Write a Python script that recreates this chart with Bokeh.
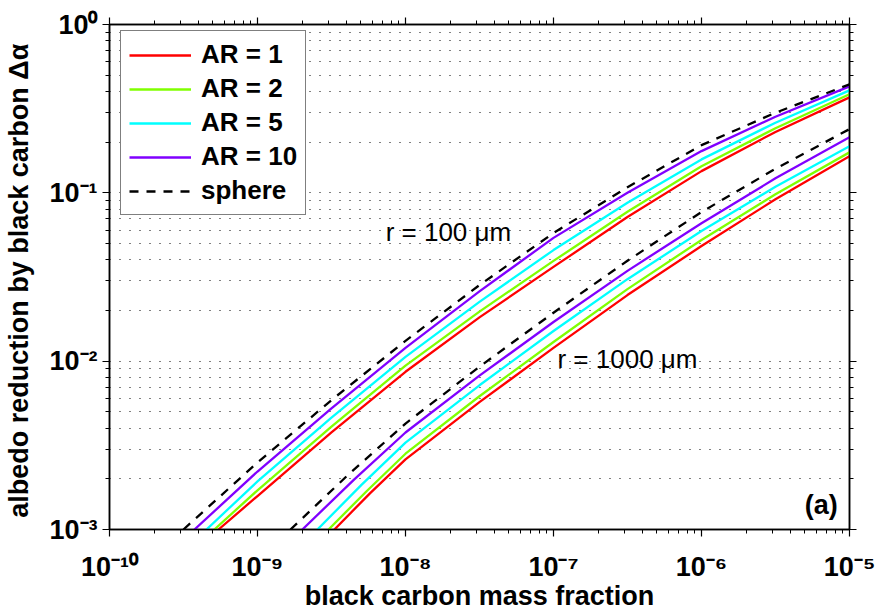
from bokeh.plotting import figure
from bokeh.models import (LogAxis, FixedTicker, Legend, LegendItem, Label)
from bokeh.embed import file_html
from bokeh.resources import INLINE

# ---------------- data ----------------
ar_labels = ["AR = 1", "AR = 2", "AR = 5", "AR = 10", "sphere"]
colors = ["#ff0000", "#80ff00", "#00ffff", "#8000ff", "#000000"]

# r = 100 um : x = black carbon mass fraction, y = albedo reduction
r100_x = {
    "AR = 1":  [5.45e-10, 1e-9, 3.16e-9, 1e-8, 3.16e-8, 1e-7, 3.16e-7, 1e-6, 3.16e-6, 1e-5],
    "AR = 2":  [5.11e-10, 1e-9, 3.16e-9, 1e-8, 3.16e-8, 1e-7, 3.16e-7, 1e-6, 3.16e-6, 1e-5],
    "AR = 5":  [4.52e-10, 1e-9, 3.16e-9, 1e-8, 3.16e-8, 1e-7, 3.16e-7, 1e-6, 3.16e-6, 1e-5],
    "AR = 10": [3.75e-10, 1e-9, 3.16e-9, 1e-8, 3.16e-8, 1e-7, 3.16e-7, 1e-6, 3.16e-6, 1e-5],
    "sphere":  [3.16e-10, 1e-9, 3.16e-9, 1e-8, 3.16e-8, 1e-7, 3.16e-7, 1e-6, 3.16e-6, 1e-5],
}
r100_y = {
    "AR = 1":  [1.0e-3, 1.58e-3, 3.78e-3, 8.65e-3, 0.0182, 0.0363, 0.0718, 0.1346, 0.230, 0.369],
    "AR = 2":  [1.0e-3, 1.71e-3, 4.08e-3, 9.40e-3, 0.0197, 0.0394, 0.0772, 0.144, 0.242, 0.385],
    "AR = 5":  [1.0e-3, 1.93e-3, 4.62e-3, 1.06e-2, 0.0225, 0.0457, 0.0873, 0.158, 0.261, 0.406],
    "AR = 10": [1.0e-3, 2.21e-3, 5.25e-3, 1.20e-2, 0.0260, 0.0540, 0.1001, 0.177, 0.283, 0.429],
    "sphere":  [1.0e-3, 2.50e-3, 5.87e-3, 1.32e-2, 0.0283, 0.0577, 0.1079, 0.192, 0.299, 0.441],
}
# r = 1000 um
r1000_x = {
    "AR = 1":  [3.31e-9, 5.75e-9, 1e-8, 3.16e-8, 1e-7, 3.16e-7, 1e-6, 3.16e-6, 1e-5],
    "AR = 2":  [3.02e-9, 5.50e-9, 1e-8, 3.16e-8, 1e-7, 3.16e-7, 1e-6, 3.16e-6, 1e-5],
    "AR = 5":  [2.54e-9, 5.04e-9, 1e-8, 3.16e-8, 1e-7, 3.16e-7, 1e-6, 3.16e-6, 1e-5],
    "AR = 10": [2.01e-9, 4.49e-9, 1e-8, 3.16e-8, 1e-7, 3.16e-7, 1e-6, 3.16e-6, 1e-5],
    "sphere":  [1.67e-9, 4.09e-9, 1e-8, 3.16e-8, 1e-7, 3.16e-7, 1e-6, 3.16e-6, 1e-5],
}
r1000_y = {
    "AR = 1":  [1.0e-3, 1.64e-3, 2.61e-3, 5.71e-3, 0.0120, 0.0247, 0.0483, 0.0916, 0.165],
    "AR = 2":  [1.0e-3, 1.70e-3, 2.82e-3, 6.19e-3, 0.0130, 0.0268, 0.0525, 0.0980, 0.174],
    "AR = 5":  [1.0e-3, 1.84e-3, 3.28e-3, 7.19e-3, 0.0151, 0.0307, 0.0593, 0.1086, 0.189],
    "AR = 10": [1.0e-3, 1.98e-3, 3.77e-3, 8.20e-3, 0.0171, 0.0344, 0.0660, 0.1219, 0.214],
    "sphere":  [1.0e-3, 2.11e-3, 4.26e-3, 9.27e-3, 0.0194, 0.0395, 0.0769, 0.1390, 0.239],
}

x_major = [1e-10, 1e-9, 1e-8, 1e-7, 1e-6, 1e-5]
y_major = [1e-3, 1e-2, 1e-1, 1e0]
x_labels = ["10⁻¹⁰", "10⁻⁹", "10⁻⁸", "10⁻⁷", "10⁻⁶", "10⁻⁵"]
y_labels = ["10⁻³", "10⁻²", "10⁻¹", "10⁰"]

annotations = [("r = 100 μm", 1.95e-8, 0.0585), ("r = 1000 μm", 3.16e-7, 0.01033)]
panel_tag = ("(a)", 6.45e-6, 1.39e-3)

# ---------------- figure ----------------
FONT = "Liberation Sans"

def minor_of(majors):
    out = []
    for m in majors[:-1]:
        out += [k * m for k in range(2, 10)]
    return out

xt = FixedTicker(ticks=x_major, minor_ticks=minor_of(x_major))
yt = FixedTicker(ticks=y_major, minor_ticks=minor_of(y_major))

p = figure(width=876, height=613, x_axis_type="log", y_axis_type="log",
           x_range=(1e-10, 1e-5), y_range=(1e-3, 1),
           output_backend="svg", toolbar_location=None,
           min_border_left=109, min_border_right=27,
           min_border_top=24, min_border_bottom=83)
p.outline_line_color = "black"
p.outline_line_width = 1.5
p.background_fill_color = "white"
p.border_fill_color = "white"

def style_axis(ax, ticker, labels_map, show_labels):
    ax.ticker = ticker
    ax.axis_line_width = 1.5
    ax.axis_line_color = "black"
    ax.major_tick_in = 0
    ax.major_tick_out = 7
    ax.minor_tick_in = 0
    ax.minor_tick_out = 4
    ax.major_tick_line_width = 1.2
    ax.minor_tick_line_width = 1
    ax.major_label_overrides = labels_map
    if show_labels:
        ax.major_label_text_font = FONT
        ax.major_label_text_font_style = "bold"
        ax.major_label_text_font_size = "27px"
        ax.major_label_text_color = "black"
        ax.axis_label_text_font = FONT
        ax.axis_label_text_font_style = "bold"
        ax.axis_label_text_font_size = "27px"
        ax.axis_label_text_color = "black"
    else:
        ax.major_label_text_font_size = "6px"
        ax.major_label_text_color = None
        ax.major_label_standoff = 0

xmap = {v: s for v, s in zip(x_major, x_labels)}
ymap = {v: s for v, s in zip(y_major, y_labels)}
blank_x = {v: "." for v in x_major}
blank_y = {v: "." for v in y_major}

style_axis(p.xaxis[0], xt, xmap, True)
style_axis(p.yaxis[0], yt, ymap, True)
p.xaxis[0].axis_label = "black carbon mass fraction"
p.yaxis[0].axis_label = "albedo reduction by black carbon  Δα"
p.xaxis[0].major_label_standoff = 15
p.yaxis[0].major_label_standoff = 5
p.xaxis[0].axis_label_standoff = -4
p.yaxis[0].axis_label_standoff = 12

top_ax = LogAxis()
style_axis(top_ax, xt, blank_x, False)
p.add_layout(top_ax, "above")
right_ax = LogAxis()
style_axis(right_ax, yt, blank_y, False)
p.add_layout(right_ax, "right")

# grid: dotted horizontal lines at major & minor y ticks
p.xgrid.visible = False
p.ygrid.ticker = yt
p.ygrid.grid_line_color = "black"
p.ygrid.grid_line_dash = "1 9"
p.ygrid.grid_line_width = 1
p.ygrid.minor_grid_line_color = "black"
p.ygrid.minor_grid_line_dash = "1 9"
p.ygrid.minor_grid_line_width = 1

# ---------------- curves ----------------
items = []
for lab, col in zip(ar_labels, colors):
    dash = "9 8" if lab == "sphere" else "solid"
    r1 = p.line(r100_x[lab], r100_y[lab], line_color=col, line_width=2.3,
                line_dash=dash, line_join="round")
    p.line(r1000_x[lab], r1000_y[lab], line_color=col, line_width=2.3,
           line_dash=dash, line_join="round")
    items.append(LegendItem(label=lab, renderers=[r1]))

legend = Legend(items=items, location=(11, 314))
legend.border_line_color = "black"
legend.border_line_width = 1.2
legend.background_fill_alpha = 1
legend.margin = 0
legend.padding = 8
legend.spacing = 3
legend.glyph_width = 62
legend.glyph_height = 28
legend.label_height = 28
legend.label_standoff = 10
legend.label_text_font = FONT
legend.label_text_font_style = "bold"
legend.label_text_font_size = "26px"
legend.label_text_color = "black"
legend.label_text_baseline = "middle"
p.add_layout(legend, "center")

for txt, xv, yv in annotations:
    p.add_layout(Label(x=xv, y=yv, text=txt, text_align="center",
                       text_baseline="middle", text_font=FONT,
                       text_font_size="26px", text_color="black"))

p.add_layout(Label(x=panel_tag[1], y=panel_tag[2], text=panel_tag[0],
                   text_align="center", text_baseline="middle",
                   text_font=FONT, text_font_style="bold",
                   text_font_size="27px", text_color="black"))

open("out.html", "w").write(file_html(p, INLINE))
